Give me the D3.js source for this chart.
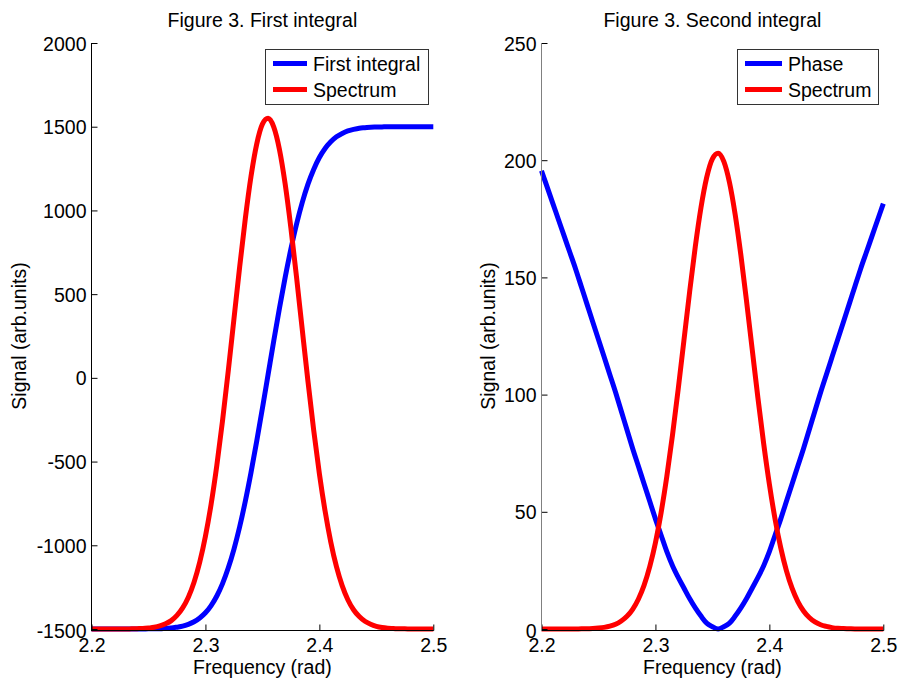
<!DOCTYPE html>
<html>
<head>
<meta charset="utf-8">
<script src="https://cdn.jsdelivr.net/npm/d3@7"></script>
<style>
  html, body { margin: 0; padding: 0; background: #fff; }
  svg { display: block; font-family: "Liberation Sans", Arial, Helvetica, sans-serif; }
</style>
</head>
<body>
<svg id="fig" width="901" height="683"></svg>
<script>
// Frequency grid (rad)
const freq = [
  2.200, 2.205, 2.210, 2.215, 2.220, 2.225, 2.230, 2.235, 2.240, 2.245,
  2.250, 2.255, 2.260, 2.265, 2.270, 2.275, 2.280, 2.285, 2.290, 2.295,
  2.300, 2.305, 2.310, 2.315, 2.320, 2.325, 2.330, 2.335, 2.340, 2.345,
  2.350, 2.355, 2.360, 2.365, 2.370, 2.375, 2.380, 2.385, 2.390, 2.395,
  2.400, 2.405, 2.410, 2.415, 2.420, 2.425, 2.430, 2.435, 2.440, 2.445,
  2.450, 2.455, 2.460, 2.465, 2.470, 2.475, 2.480, 2.485, 2.490, 2.495,
  2.500
];

// Left panel: first integral of the spectrum
const firstIntegral = [
  -1500, -1500, -1500, -1500, -1500, -1500, -1500, -1500, -1500, -1500,
  -1499, -1499, -1498, -1496, -1494, -1489, -1483, -1472, -1457, -1434,
  -1403, -1360, -1303, -1229, -1136, -1024, -891, -737, -565, -379,
  -182, 20, 222, 417, 601, 769, 919, 1048, 1157, 1245,
  1316, 1370, 1410, 1440, 1460, 1475, 1484, 1491, 1494, 1497,
  1498, 1499, 1500, 1500, 1500, 1500, 1500, 1500, 1500, 1500,
  1500
];

// Left panel: spectrum, offset onto the integral's scale
const spectrumLeft = [
  -1500, -1500, -1500, -1500, -1500, -1500, -1500, -1499, -1498, -1497,
  -1494, -1490, -1482, -1469, -1450, -1419, -1374, -1310, -1221, -1101,
  -946, -754, -523, -256, 39, 350, 660, 951, 1203, 1396,
  1515, 1550, 1498, 1363, 1157, 896, 599, 287, -21, -311,
  -572, -795, -980, -1128, -1241, -1325, -1385, -1426, -1454, -1472,
  -1484, -1491, -1495, -1497, -1499, -1499, -1500, -1500, -1500, -1500,
  -1500
];

// Right panel: phase
const phase = [
  195.5, 188.5, 181.5, 174.5, 167.5, 160.5, 153.5, 146, 138.5, 131,
  123.5, 116, 108.5, 101, 93, 85, 77, 69.5, 62, 54.5,
  47, 40, 33, 27, 22, 17.5, 13, 9, 5.5, 2.5,
  1, 0, 1, 2.5, 5.5, 9, 13, 17.5, 22, 27,
  33, 40, 47, 54.5, 62, 69.5, 77, 85, 93, 101,
  108.5, 116, 123.5, 131, 138.5, 146, 153.5, 160.5, 167.5, 174.5,
  181.5
];

// Right panel: spectrum
const spectrumRight = [
  0, 0, 0, 0, 0, 0, 0, 0.1, 0.1, 0.2,
  0.4, 0.7, 1.2, 2.0, 3.4, 5.4, 8.4, 12.7, 18.6, 26.6,
  36.8, 49.7, 65.1, 82.8, 102.4, 123.1, 143.8, 163.2, 179.9, 192.7,
  200.6, 203, 199.5, 190.5, 176.8, 159.5, 139.7, 119.0, 98.4, 79.1,
  61.8, 46.9, 34.6, 24.8, 17.3, 11.7, 7.7, 4.9, 3.0, 1.8,
  1.1, 0.6, 0.3, 0.2, 0.1, 0, 0, 0, 0, 0,
  0
];

// Tick values
const freqTicks = [2.2, 2.3, 2.4, 2.5];
const leftTicks = [-1500, -1000, -500, 0, 500, 1000, 1500, 2000];
const rightTicks = [0, 50, 100, 150, 200, 250];

// Titles and labels
const titles = ["Figure 3. First integral", "Figure 3. Second integral"];
const xLabel = "Frequency (rad)";
const yLabel = "Signal (arb.units)";
const legendLeft = ["First integral", "Spectrum"];
const legendRight = ["Phase", "Spectrum"];

const FONT = 19.5;
const TOP = 43, BOTTOM = 629, AXIS_Y = 630.5;
const svg = d3.select("#fig");

function drawPanel(opt) {
  const x = d3.scaleLinear().domain([2.2, 2.5]).range([opt.left, opt.right]);
  const y = d3.scaleLinear().domain(opt.yDomain).range([BOTTOM, TOP]);
  const g = svg.append("g");

  // data curves (spectrum drawn last so it sits on top)
  const line = d3.line()
    .x((d, i) => x(freq[i]))
    .y(d => y(d))
    .curve(d3.curveMonotoneX);
  opt.series.forEach(s => {
    g.append("path")
      .attr("d", line(s.values))
      .attr("fill", "none")
      .attr("stroke", s.color)
      .attr("stroke-width", 5)
      .attr("stroke-linejoin", "round");
  });

  // x axis
  const xAxis = g.append("g")
    .attr("transform", `translate(0,${AXIS_Y})`)
    .call(d3.axisBottom(x).tickValues(freqTicks)
      .tickSizeInner(-6).tickSizeOuter(0).tickPadding(8)
      .tickFormat(d3.format(".1f")));
  xAxis.select(".domain").remove();
  xAxis.selectAll("text").attr("font-size", FONT).attr("fill", "#000")
    .attr("font-family", "Liberation Sans, Arial, sans-serif")
    .attr("y", 21.5).attr("dy", null);
  xAxis.selectAll("line").attr("stroke", "#000");
  g.append("line")
    .attr("x1", opt.left - 0.5).attr("x2", opt.right + 0.5)
    .attr("y1", AXIS_Y).attr("y2", AXIS_Y)
    .attr("stroke", "#000").attr("stroke-width", 1);

  // y axis
  const yAxis = g.append("g")
    .attr("transform", `translate(${opt.left},0)`)
    .call(d3.axisLeft(y).tickValues(opt.yTicks)
      .tickSizeInner(-6).tickSizeOuter(0).tickPadding(5)
      .tickFormat(d => String(d)));
  yAxis.select(".domain").remove();
  yAxis.selectAll("text").attr("font-size", FONT).attr("fill", "#000")
    .attr("font-family", "Liberation Sans, Arial, sans-serif")
    .attr("dy", "0.36em");
  yAxis.selectAll(".tick").filter(d => d === opt.yDomain[0])
    .select("text").attr("dy", "0.45em");
  yAxis.selectAll("line").attr("stroke", "#000");
  g.append("line")
    .attr("x1", opt.left).attr("x2", opt.left)
    .attr("y1", TOP).attr("y2", AXIS_Y + 0.5)
    .attr("stroke", opt.yAxisColor).attr("stroke-width", 1);

  // title
  g.append("text")
    .attr("x", (opt.left + opt.right) / 2).attr("y", 27)
    .attr("text-anchor", "middle").attr("font-size", FONT)
    .text(opt.title);

  // x label
  g.append("text")
    .attr("x", (opt.left + opt.right) / 2).attr("y", 674)
    .attr("text-anchor", "middle").attr("font-size", FONT)
    .text(xLabel);

  // y label
  g.append("text")
    .attr("transform", `translate(${opt.yLabelX},${(TOP + BOTTOM) / 2}) rotate(-90)`)
    .attr("text-anchor", "middle").attr("font-size", FONT)
    .text(yLabel);

  // legend
  const lg = g.append("g");
  lg.append("rect")
    .attr("x", opt.legend.x + 0.5).attr("y", 49.5)
    .attr("width", opt.legend.w).attr("height", 55)
    .attr("fill", "#fff").attr("stroke", "#333").attr("stroke-width", 1);
  opt.series.forEach((s, i) => {
    const cy = 63.5 + i * 26;
    lg.append("line")
      .attr("x1", opt.legend.x + 8).attr("x2", opt.legend.x + 8 + opt.legend.lineW)
      .attr("y1", cy).attr("y2", cy)
      .attr("stroke", s.color).attr("stroke-width", 5);
    lg.append("text")
      .attr("x", opt.legend.x + 14 + opt.legend.lineW).attr("y", cy + 7)
      .attr("font-size", FONT)
      .text(s.name);
  });
}

drawPanel({
  left: 91.5, right: 433.3,
  yDomain: [-1500, 2000], yTicks: leftTicks,
  yAxisColor: "#000", yLabelX: 26,
  title: titles[0],
  legend: { x: 265, w: 163, lineW: 34 },
  series: [
    { name: legendLeft[0], values: firstIntegral, color: "#0000ff" },
    { name: legendLeft[1], values: spectrumLeft, color: "#ff0000" }
  ]
});

drawPanel({
  left: 541.5, right: 883.3,
  yDomain: [0, 250], yTicks: rightTicks,
  yAxisColor: "#808080", yLabelX: 495,
  title: titles[1],
  legend: { x: 737, w: 141, lineW: 37 },
  series: [
    { name: legendRight[0], values: phase, color: "#0000ff" },
    { name: legendRight[1], values: spectrumRight, color: "#ff0000" }
  ]
});
</script>
</body>
</html>
